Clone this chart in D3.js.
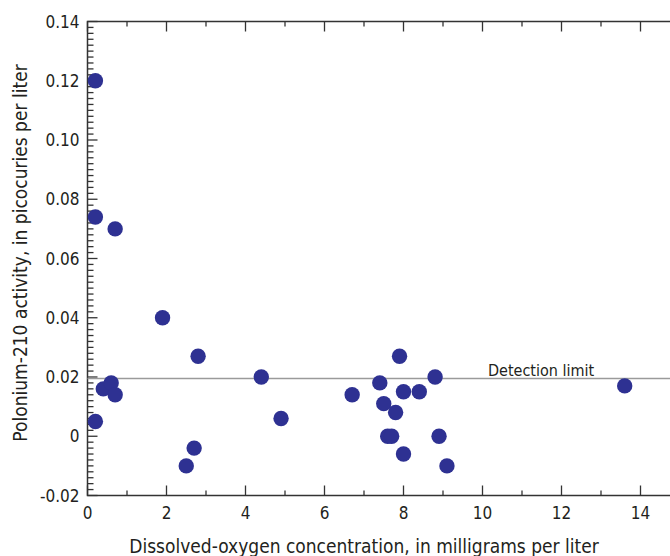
<!DOCTYPE html>
<html>
<head>
<meta charset="utf-8">
<script src="https://cdn.jsdelivr.net/npm/d3@7"></script>
<style>
  body { margin: 0; background: #fff; }
  svg { display: block; }
  text { font-family: "Liberation Sans Narrow", "DejaVu Sans Condensed", sans-serif; fill: #231f20; }
</style>
</head>
<body>
<div id="chart"></div>
<script>
// dissolved oxygen (mg/L) vs polonium-210 activity (pCi/L)
var oxygen = [0.2, 0.2, 0.7, 1.9, 2.8, 4.4, 4.9, 2.5, 2.7, 0.2, 0.4, 0.6, 0.7,
              6.7, 7.4, 7.9, 8.0, 8.4, 8.8, 7.5, 7.8, 7.6, 7.7, 8.9, 8.0, 9.1, 13.6];
var polonium = [0.120, 0.074, 0.070, 0.040, 0.027, 0.020, 0.006, -0.010, -0.004, 0.005, 0.016, 0.018, 0.014,
                0.014, 0.018, 0.027, 0.015, 0.015, 0.020, 0.011, 0.008, 0.000, 0.000, 0.000, -0.006, -0.010, 0.017];
var xTicks = [0, 2, 4, 6, 8, 10, 12, 14];
var yTicks = [-0.02, 0, 0.02, 0.04, 0.06, 0.08, 0.10, 0.12, 0.14];
var detectionLimit = 0.0195;

var width = 670, height = 556;
var margin = {top: 21.5, left: 87.5, bottom: 60.5};

var x = d3.scaleLinear().domain([0, 15]).range([margin.left, margin.left + 39.5 * 15]);
var y = d3.scaleLinear().domain([-0.02, 0.14]).range([height - margin.bottom, margin.top]);

var svg = d3.select('#chart').append('svg')
  .attr('width', width)
  .attr('height', height);

var axisColor = '#333';

// frame
svg.append('rect')
  .attr('x', x(0))
  .attr('y', y(0.14))
  .attr('width', x(15) - x(0))
  .attr('height', y(-0.02) - y(0.14))
  .attr('fill', 'none')
  .attr('stroke', axisColor)
  .attr('stroke-width', 1.5);

var xMinor = d3.range(0, 16, 1);
var yMinor = d3.range(-20, 141, 2).map(function(d) { return d / 1000; });

// ticks point inward on every side
var tickGroup = svg.append('g')
  .attr('stroke', axisColor)
  .attr('stroke-width', 1.3);

xMinor.forEach(function(v) {
  var len = (v % 2 === 0) ? 10 : 5;
  tickGroup.append('line')
    .attr('x1', x(v)).attr('x2', x(v))
    .attr('y1', y(-0.02)).attr('y2', y(-0.02) - len);
  tickGroup.append('line')
    .attr('x1', x(v)).attr('x2', x(v))
    .attr('y1', y(0.14)).attr('y2', y(0.14) + len);
});

yMinor.forEach(function(v) {
  var major = Math.abs(Math.round(v * 1000)) % 20 === 0;
  var len = major ? 10 : 6;
  tickGroup.append('line')
    .attr('x1', x(0)).attr('x2', x(0) + len)
    .attr('y1', y(v)).attr('y2', y(v));
  tickGroup.append('line')
    .attr('x1', x(15)).attr('x2', x(15) - len)
    .attr('y1', y(v)).attr('y2', y(v));
});

// tick labels
svg.append('g')
  .selectAll('text')
  .data(xTicks)
  .enter()
  .append('text')
  .attr('x', function(d) { return x(d); })
  .attr('y', y(-0.02) + 23)
  .attr('text-anchor', 'middle')
  .style('font-size', '17px')
  .text(function(d) { return d; });

var yFormat = function(d) {
  if (d === 0) return '0';
  // plain hyphen for negatives, like the original
  return d3.format('.2f')(d).replace('\u2212', '-');
};

svg.append('g')
  .selectAll('text')
  .data(yTicks)
  .enter()
  .append('text')
  .attr('x', x(0) - 8)
  .attr('y', function(d) { return y(d) + 6; })
  .attr('text-anchor', 'end')
  .style('font-size', '17px')
  .text(yFormat);

// detection limit
svg.append('line')
  .attr('x1', x(0)).attr('x2', width)
  .attr('y1', y(detectionLimit)).attr('y2', y(detectionLimit))
  .attr('stroke', '#9a9a9a')
  .attr('stroke-width', 1.5);

svg.append('text')
  .attr('x', 488)
  .attr('y', y(detectionLimit) - 2)
  .style('font-size', '16px')
  .text('Detection limit');

// points
svg.append('g')
  .selectAll('circle')
  .data(oxygen)
  .enter()
  .append('circle')
  .attr('cx', function(d) { return x(d); })
  .attr('cy', function(d, i) { return y(polonium[i]); })
  .attr('r', 7.7)
  .attr('fill', '#2e3192');

// axis titles
svg.append('text')
  .attr('x', 364)
  .attr('y', 553)
  .attr('text-anchor', 'middle')
  .style('font-size', '19px')
  .text('Dissolved-oxygen concentration, in milligrams per liter');

svg.append('text')
  .attr('transform', 'translate(27,253) rotate(-90)')
  .attr('text-anchor', 'middle')
  .style('font-size', '19px')
  .text('Polonium-210 activity, in picocuries per liter');
</script>
</body>
</html>
